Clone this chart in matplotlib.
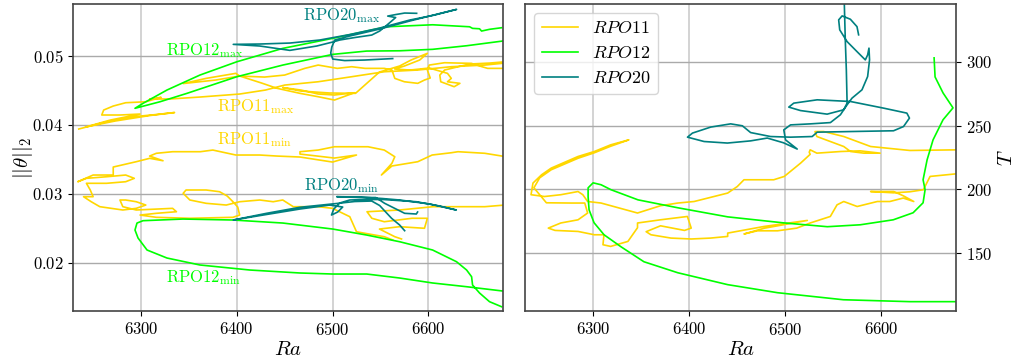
import numpy as np
import matplotlib
matplotlib.use('Agg')
import matplotlib.pyplot as plt

plt.rcParams['font.family'] = 'serif'
plt.rcParams['font.serif'] = ['cmr10', 'DejaVu Serif']
plt.rcParams['mathtext.fontset'] = 'cm'
plt.rcParams['axes.formatter.use_mathtext'] = True

# continuation branches: (Ra, ||theta||_2 max), (Ra, ||theta||_2 min), (Ra, T)
rpo11_max = [(6235, 0.03938), (6263, 0.04039), (6289, 0.04112), (6316, 0.04148), (6335, 0.04177),
             (6309, 0.04133), (6273, 0.04054), (6242, 0.03967), (6268, 0.04068), (6299, 0.04155),
             (6278, 0.04141), (6259, 0.04141), (6261, 0.04213), (6271, 0.04271), (6284, 0.04319),
             (6305, 0.04333), (6321, 0.04397), (6309, 0.04373), (6330, 0.04373), (6362, 0.04402),
             (6403, 0.04445), (6430, 0.04503), (6450, 0.04575), (6485, 0.04623), (6520, 0.04696),
             (6554, 0.04768), (6589, 0.04793), (6624, 0.04841), (6659, 0.04865), (6677, 0.04890),
             (6690, 0.04902), (6687, 0.04829), (6677, 0.04817), (6662, 0.04817), (6656, 0.04841),
             (6645, 0.04890), (6631, 0.04894), (6617, 0.04899), (6601, 0.04865), (6599, 0.04793),
             (6602, 0.04677), (6596, 0.04648), (6589, 0.04600), (6575, 0.04623), (6565, 0.04672),
             (6562, 0.04793), (6554, 0.04817), (6534, 0.04817), (6520, 0.04841), (6505, 0.04817),
             (6495, 0.04841), (6485, 0.04865), (6471, 0.04817), (6450, 0.04720), (6429, 0.04691),
             (6403, 0.04706), (6399, 0.04745), (6368, 0.04672), (6344, 0.04597), (6378, 0.04648),
             (6403, 0.04706), (6426, 0.04604), (6442, 0.04528), (6466, 0.04455), (6485, 0.04406),
             (6502, 0.04358), (6523, 0.04464), (6502, 0.04431), (6485, 0.04445), (6467, 0.04503),
             (6448, 0.04539), (6467, 0.04488), (6497, 0.04460), (6524, 0.04455), (6549, 0.04764),
             (6570, 0.04851), (6582, 0.04938), (6599, 0.05035), (6591, 0.04938), (6575, 0.04851),
             (6565, 0.04807), (6581, 0.04793), (6601, 0.04822), (6620, 0.04745), (6624, 0.04672),
             (6620, 0.04623), (6633, 0.04600), (6627, 0.04551), (6613, 0.04623), (6612, 0.04720),
             (6617, 0.04793), (6643, 0.04880), (6664, 0.04894), (6677, 0.04909)]

rpo11_min = [(6563, 0.02329), (6554, 0.02377), (6534, 0.02426), (6525, 0.02449), (6518, 0.02667),
             (6500, 0.02788), (6485, 0.02812), (6459, 0.02812), (6448, 0.02909), (6438, 0.02884),
             (6424, 0.02909), (6403, 0.02884), (6389, 0.02836), (6368, 0.02861), (6351, 0.02909),
             (6344, 0.03006), (6347, 0.03054), (6368, 0.03054), (6382, 0.03029), (6390, 0.02967),
             (6396, 0.02884), (6401, 0.02807), (6403, 0.02691), (6396, 0.02658), (6351, 0.02644),
             (6316, 0.02658), (6299, 0.02691), (6316, 0.02716), (6337, 0.02739), (6333, 0.02788),
             (6295, 0.02764), (6281, 0.02812), (6278, 0.02909), (6284, 0.02909), (6295, 0.02884),
             (6305, 0.02836), (6295, 0.02788), (6281, 0.02764), (6257, 0.02812), (6248, 0.02884),
             (6240, 0.02957), (6250, 0.02957), (6247, 0.03054), (6243, 0.03151), (6264, 0.03151),
             (6284, 0.03174), (6293, 0.03223), (6284, 0.03271), (6264, 0.03246), (6243, 0.03223),
             (6234, 0.03174), (6250, 0.03271), (6271, 0.03271), (6271, 0.03387), (6295, 0.03464),
             (6309, 0.03513), (6323, 0.03478), (6309, 0.03546), (6316, 0.03586), (6333, 0.03609),
             (6362, 0.03609), (6375, 0.03633), (6399, 0.03561), (6424, 0.03561), (6442, 0.03546),
             (6466, 0.03532), (6500, 0.03459), (6525, 0.03561), (6502, 0.03517), (6466, 0.03575),
             (6466, 0.03609), (6485, 0.03633), (6502, 0.03681), (6537, 0.03681), (6554, 0.03633),
             (6565, 0.03536), (6562, 0.03441), (6551, 0.03271), (6562, 0.03402), (6589, 0.03464),
             (6604, 0.03561), (6624, 0.03594), (6631, 0.03609), (6659, 0.03586), (6680, 0.03539),
             (6695, 0.03517), (6695, 0.02836), (6680, 0.02836), (6659, 0.02812), (6605, 0.02812),
             (6570, 0.02764), (6536, 0.02739), (6541, 0.02644), (6554, 0.02594), (6583, 0.02644),
             (6599, 0.02644), (6596, 0.02499), (6570, 0.02522), (6549, 0.02488), (6565, 0.02377),
             (6572, 0.02344)]

rpo11_T = [(6703, 231.0), (6679, 231.0), (6630, 230.5), (6589, 233.6), (6561, 241.4), (6540, 245.3),
           (6531, 245.3), (6533, 241.4), (6547, 237.5), (6561, 233.6), (6568, 229.7), (6582, 228.4),
           (6599, 228.4), (6578, 230.2), (6558, 229.7), (6533, 228.4), (6526, 231.0), (6525, 229.1),
           (6526, 227.5), (6516, 220.6), (6499, 210.2), (6488, 207.6), (6457, 207.6), (6450, 202.3),
           (6440, 197.2), (6405, 190.6), (6388, 189.4), (6370, 187.3), (6346, 181.6), (6308, 189.4),
           (6294, 190.6), (6289, 195.9), (6284, 198.4), (6266, 195.9), (6249, 194.5), (6235, 195.9),
           (6237, 205.0), (6246, 211.5), (6256, 216.7), (6284, 225.8), (6301, 229.7), (6318, 234.9),
           (6337, 238.8), (6318, 233.8), (6301, 228.7), (6284, 224.4), (6256, 215.4), (6244, 209.1),
           (6238, 201.3), (6251, 189.6), (6277, 189.4), (6291, 189.4), (6294, 181.6), (6284, 176.3),
           (6266, 173.8), (6253, 169.8), (6260, 168.0), (6284, 167.2), (6301, 164.6), (6311, 164.6),
           (6310, 156.8), (6318, 155.5), (6336, 159.4), (6346, 170.1), (6346, 173.8), (6370, 176.3),
           (6398, 178.9), (6402, 169.8), (6395, 168.0), (6370, 171.6), (6355, 167.0), (6360, 164.6),
           (6381, 162.0), (6402, 161.3), (6422, 162.0), (6440, 163.3), (6440, 165.9), (6478, 171.1),
           (6523, 175.8), (6478, 169.7), (6457, 165.2), (6471, 167.7), (6492, 167.7), (6512, 169.8),
           (6526, 173.8), (6547, 178.9), (6554, 188.0), (6561, 190.6), (6575, 186.7), (6596, 190.6),
           (6609, 190.6), (6623, 193.3), (6634, 190.6), (6623, 195.1), (6613, 198.4), (6589, 198.4),
           (6613, 197.4), (6630, 198.2), (6644, 199.8), (6651, 210.2), (6679, 212.3), (6703, 212.3)]

rpo12_max = [(6676.5, 0.05406), (6663.9, 0.05383), (6655.6, 0.05358), (6653.5, 0.05391),
             (6646.2, 0.05397), (6643.1, 0.05420), (6604.5, 0.05449), (6556.5, 0.05420),
             (6500.2, 0.05252), (6448.1, 0.05107), (6400.1, 0.04913), (6361.5, 0.04720),
             (6327.1, 0.04503), (6302.1, 0.04310), (6293.7, 0.04238), (6319.8, 0.04333),
             (6348.0, 0.04455), (6400.1, 0.04696), (6448.1, 0.04865), (6500.2, 0.05020),
             (6535.7, 0.05068), (6570.1, 0.05072), (6604.5, 0.05093), (6640.0, 0.05145),
             (6677.5, 0.05213), (6700.0, 0.05255)]

rpo12_min = [(6676.5, 0.01362), (6663.9, 0.01435), (6653.5, 0.01561), (6646.2, 0.01677),
             (6645.2, 0.01797), (6640.0, 0.01894), (6629.5, 0.02014), (6604.5, 0.02184),
             (6570.1, 0.02304), (6535.7, 0.02401), (6500.2, 0.02488), (6448.1, 0.02575),
             (6395.9, 0.02619), (6343.8, 0.02633), (6302.1, 0.02609), (6295.8, 0.02575),
             (6293.7, 0.02474), (6296.9, 0.02358), (6306.3, 0.02184), (6327.1, 0.02068),
             (6361.5, 0.01967), (6413.7, 0.01894), (6465.8, 0.01851), (6500.2, 0.01836),
             (6535.7, 0.01836), (6570.1, 0.01778), (6604.5, 0.01706), (6640.0, 0.01652),
             (6677.5, 0.01590), (6700.0, 0.01570)]

rpo12_T = [(6655.2, 302.9), (6656.2, 288.0), (6664.5, 275.5), (6674.9, 263.8), (6664.5, 254.5),
           (6654.1, 238.8), (6647.9, 223.2), (6643.7, 207.6), (6645.8, 199.8), (6643.7, 189.6),
           (6633.3, 181.8), (6612.6, 176.3), (6578.2, 172.4), (6543.9, 170.9), (6498.2, 173.9),
           (6440.0, 178.6), (6388.0, 185.7), (6346.5, 191.9), (6318.4, 199.8), (6308.0, 203.7),
           (6299.7, 205.2), (6294.5, 201.3), (6294.5, 194.3), (6295.5, 184.1), (6300.7, 174.0),
           (6311.1, 164.6), (6328.8, 155.2), (6352.7, 143.5), (6388.0, 134.9), (6440.0, 125.6),
           (6492.0, 119.3), (6560.6, 113.8), (6630.2, 112.3), (6679.0, 112.3), (6700.0, 112.2)]

rpo20_max = [(6587.8, 0.05615), (6575.3, 0.05619), (6565.9, 0.05597), (6557.6, 0.05575),
             (6565.9, 0.05554), (6561.7, 0.05503), (6555.5, 0.05430), (6549.2, 0.05358),
             (6540.9, 0.05300), (6523.2, 0.05264), (6507.5, 0.05228), (6500.2, 0.05199),
             (6483.5, 0.05141), (6455.4, 0.05078), (6424.1, 0.05141), (6396.3, 0.05165),
             (6424.1, 0.05170), (6455.4, 0.05184), (6486.7, 0.05228), (6517.9, 0.05307),
             (6549.2, 0.05401), (6580.5, 0.05517), (6606.6, 0.05590), (6629.5, 0.05672),
             (6611.8, 0.05612), (6580.5, 0.05503), (6549.2, 0.05387), (6517.9, 0.05286),
             (6502.3, 0.05228), (6499.2, 0.05126), (6498.1, 0.05039), (6500.2, 0.04952),
             (6512.7, 0.04930), (6533.6, 0.04938), (6562.8, 0.04959)]

rpo20_min = [(6575.3, 0.02464), (6570.1, 0.02546), (6561.7, 0.02643), (6555.5, 0.02735),
             (6549.2, 0.02829), (6540.9, 0.02894), (6523.2, 0.02887), (6504.1, 0.02858),
             (6465.8, 0.02803), (6431.1, 0.02716), (6396.3, 0.02619), (6431.1, 0.02699),
             (6465.8, 0.02778), (6497.1, 0.02836), (6510.6, 0.02807), (6505.4, 0.02735),
             (6498.9, 0.02691), (6501.3, 0.02778), (6507.5, 0.02865), (6517.9, 0.02909),
             (6535.4, 0.02916), (6552.7, 0.02916), (6587.5, 0.02884), (6611.8, 0.02822),
             (6629.2, 0.02764), (6601.4, 0.02851), (6570.1, 0.02909), (6552.4, 0.02930),
             (6528.4, 0.02952), (6504.4, 0.02957), (6528.4, 0.02945), (6545.1, 0.02945),
             (6554.4, 0.02861), (6564.9, 0.02788), (6575.3, 0.02716), (6587.5, 0.02706),
             (6588.8, 0.02735)]

rpo20_T = [(6576.5, 320.9), (6574.8, 327.3), (6567.9, 333.1), (6559.3, 335.7), (6555.7, 332.6),
           (6556.8, 324.8), (6564.5, 315.6), (6574.8, 307.8), (6583.5, 301.3), (6585.9, 305.2),
           (6587.3, 310.5), (6587.9, 301.3), (6585.9, 288.3), (6580.0, 277.9), (6569.6, 271.4),
           (6564.5, 266.2), (6557.5, 258.4), (6547.1, 252.3), (6526.3, 251.3), (6505.5, 250.5),
           (6498.5, 246.6), (6500.3, 238.8), (6512.5, 231.6), (6498.2, 236.5), (6481.3, 240.2),
           (6463.9, 238.0), (6439.7, 236.3), (6415.4, 237.5), (6398.1, 240.9), (6403.3, 244.1),
           (6422.4, 248.8), (6443.1, 251.3), (6455.3, 249.8), (6463.9, 244.5), (6484.7, 241.4),
           (6505.5, 240.9), (6528.1, 241.4), (6533.3, 244.8), (6567.9, 245.3), (6612.9, 245.9),
           (6623.3, 249.2), (6629.5, 255.8), (6626.8, 259.7), (6602.5, 263.6), (6567.9, 268.8),
           (6533.3, 270.1), (6508.9, 267.5), (6503.7, 264.4), (6515.9, 261.7), (6543.7, 258.9),
           (6560.9, 262.3), (6564.5, 267.5), (6563.7, 293.5), (6562.6, 317.0), (6561.6, 345.1),
           (6561.0, 360.0)]

c11 = 'gold'
c12 = 'lime'
c20 = 'teal'

fig = plt.figure(figsize=(10.17, 3.61), dpi=100)
ax1 = fig.add_axes([0.0718, 0.1385, 0.4228, 0.8504])
ax2 = fig.add_axes([0.5165, 0.1385, 0.4235, 0.8504])

def draw(ax, pts, color, label=None):
    a = np.array(pts)
    ax.plot(a[:, 0], a[:, 1], color=color, lw=1.2, label=label)

# left: norm extrema
draw(ax1, rpo11_max, c11)
draw(ax1, rpo11_min, c11)
draw(ax1, rpo12_max, c12)
draw(ax1, rpo12_min, c12)
draw(ax1, rpo20_max, c20)
draw(ax1, rpo20_min, c20)

tk = dict(fontsize=12, ha='left', va='center')
ax1.text(6469, 0.0558, r'RPO20$_{\rm max}$', color=c20, **tk)
ax1.text(6326, 0.0508, r'RPO12$_{\rm max}$', color=c12, **tk)
ax1.text(6379, 0.0427, r'RPO11$_{\rm max}$', color=c11, **tk)
ax1.text(6379, 0.0378, r'RPO11$_{\rm min}$', color=c11, **tk)
ax1.text(6470, 0.0312, r'RPO20$_{\rm min}$', color=c20, **tk)
ax1.text(6326, 0.0178, r'RPO12$_{\rm min}$', color=c12, **tk)

ax1.set_xlim(6229, 6678)
ax1.set_ylim(0.0130, 0.0575)
ax1.set_yticks([0.02, 0.03, 0.04, 0.05])
ax1.set_xlabel(r'$Ra$', fontsize=15, labelpad=2)
ax1.set_ylabel(r'$||\theta||_2$', fontsize=15, labelpad=-2)

# right: periods
draw(ax2, rpo11_T, c11, r'$RPO11$')
draw(ax2, rpo12_T, c12, r'$RPO12$')
draw(ax2, rpo20_T, c20, r'$RPO20$')

ax2.set_xlim(6229, 6678)
ax2.set_ylim(105, 345)
ax2.set_yticks([150, 200, 250, 300])
ax2.yaxis.tick_right()
ax2.yaxis.set_label_position('right')
ax2.set_xlabel(r'$Ra$', fontsize=15, labelpad=2)
ax2.set_ylabel(r'$T$', fontsize=15)
ax2.legend(loc='upper left', fontsize=13, framealpha=0.8)

for ax in (ax1, ax2):
    ax.set_xticks([6300, 6400, 6500, 6600])
    ax.tick_params(labelsize=12)
    ax.grid(axis='x', color='#cccccc', lw=1.2)
    ax.grid(axis='y', color='#aaaaaa', lw=1.0)
    for s in ax.spines.values():
        s.set_color('#444444')
        s.set_linewidth(1.2)

fig.savefig('out.png', dpi=100)
